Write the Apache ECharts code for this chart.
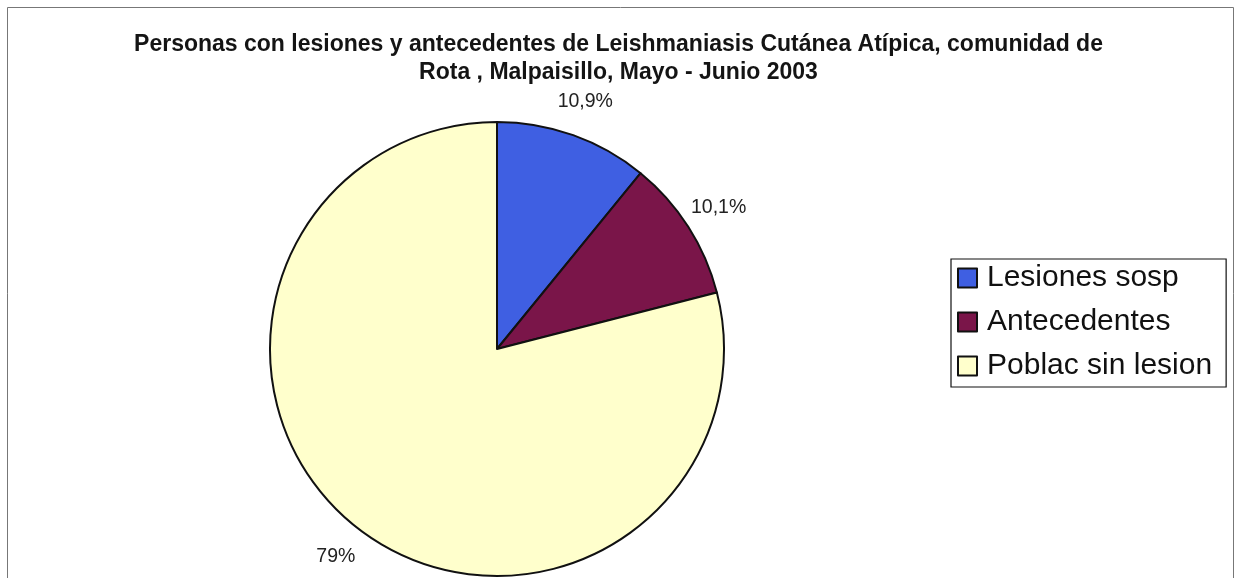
<!DOCTYPE html>
<html>
<head>
<meta charset="utf-8">
<script src="https://cdn.jsdelivr.net/npm/echarts@6/dist/echarts.min.js"></script>
<style>
  html, body { margin: 0; padding: 0; background: #ffffff; }
  #chart { width: 1237px; height: 578px; }
</style>
</head>
<body>
<div id="chart"></div>
<script>
// Population groups and their shares (%)
const categories = ['Lesiones sosp', 'Antecedentes', 'Poblac sin lesion'];
const shares = [10.9, 10.1, 79];
const shareLabels = ['10,9%', '10,1%', '79%'];
const sliceColors = ['#3f5fe2', '#7a1549', '#ffffcc'];

const titleLines = [
  'Personas con lesiones y antecedentes de Leishmaniasis Cutánea Atípica, comunidad de',
  'Rota , Malpaisillo, Mayo - Junio 2003'
];

const FONT = '"Liberation Sans", Arial, sans-serif';

const pieData = categories.map((name, i) => ({
  name: name,
  value: shares[i],
  itemStyle: { color: sliceColors[i] }
}));

// transparent ring that carries the percentage labels just outside the pie
const labelRingData = categories.map((name, i) => ({
  name: name,
  value: shares[i],
  label: { formatter: shareLabels[i] }
}));

const chart = echarts.init(document.getElementById('chart'), null, { renderer: 'canvas' });

chart.setOption({
  backgroundColor: '#ffffff',
  animation: false,
  title: {
    text: titleLines.join('\n'),
    left: 'center',
    top: 26,
    textStyle: {
      fontFamily: FONT,
      fontWeight: 'bold',
      fontSize: 23,
      lineHeight: 27.5,
      color: '#141414'
    }
  },
  legend: {
    data: categories,
    orient: 'vertical',
    left: 951,
    top: 259,
    padding: [4, 14, 6, 6],
    itemGap: 14,
    itemWidth: 19,
    itemHeight: 19,
    icon: 'rect',
    borderColor: '#111',
    borderWidth: 1.2,
    selectedMode: false,
    textStyle: {
      fontFamily: FONT,
      fontSize: 30,
      lineHeight: 30,
      color: '#111',
      padding: [0, 0, 0, 5]
    }
  },
  graphic: [{
    type: 'rect',
    shape: { x: 7.5, y: 7.5, width: 1226, height: 590 },
    style: { fill: 'none', stroke: '#777', lineWidth: 1 },
    silent: true,
    z: -1
  }],
  series: [
    {
      type: 'pie',
      center: [497, 349],
      radius: [0, 227],
      startAngle: 90,
      clockwise: true,
      silent: true,
      label: { show: false },
      labelLine: { show: false },
      itemStyle: { borderColor: '#111', borderWidth: 2 },
      data: pieData
    },
    {
      type: 'pie',
      center: [497, 349],
      radius: [238, 282],
      startAngle: 90,
      clockwise: true,
      silent: true,
      itemStyle: { color: 'rgba(0,0,0,0)', borderWidth: 0 },
      label: {
        show: true,
        position: 'inside',
        fontFamily: FONT,
        fontSize: 19.5,
        color: '#222'
      },
      labelLine: { show: false },
      data: labelRingData
    }
  ]
});
</script>
</body>
</html>
